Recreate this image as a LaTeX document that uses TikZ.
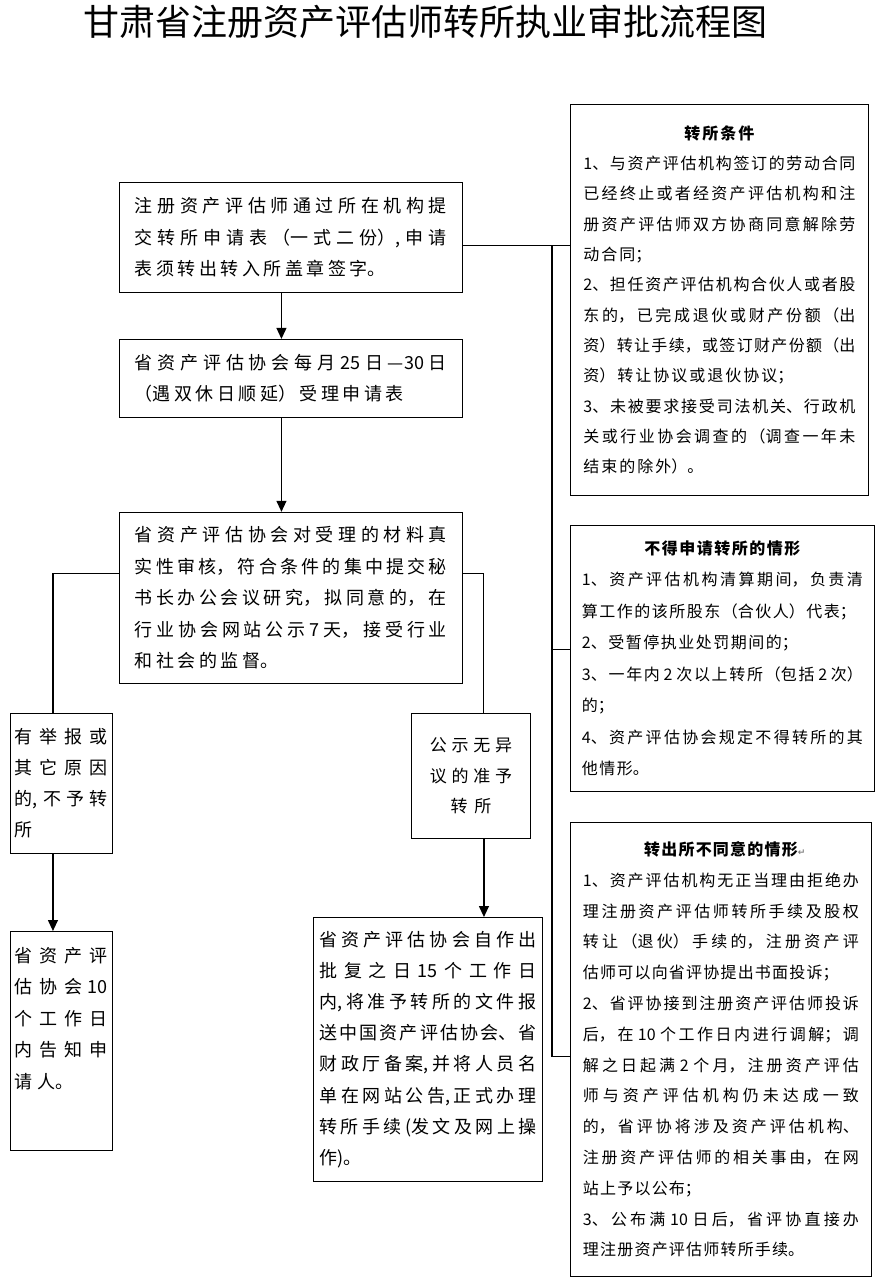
\documentclass[tikz,border=0pt]{standalone}
\usepackage{fontspec}
\setmainfont{Noto Sans CJK SC}
\newfontfamily\markfont{DejaVu Sans}
\usepackage{xcolor}
\usepackage{tikz}
\usetikzlibrary{arrows.meta,positioning}
\XeTeXlinebreaklocale "zh"
\newcommand{\cjkfont}[3]{\fontsize{#1}{#2}\selectfont\XeTeXlinebreakskip=#3 plus 3pt minus 1.5pt\relax}

\begin{document}
\begin{tikzpicture}[
    x=1pt, y=-1pt,
    flowbox/.style={rectangle, draw=black, line width=0.9pt, anchor=north west, inner ysep=0pt, align=justify, font={\cjkfont{18}{31.5}{3.5pt}}},
    notebox/.style={rectangle, draw=black, line width=0.9pt, anchor=north west, inner ysep=0pt, align=justify},
    arrow/.style={-{Triangle[length=11pt,width=10pt]}, line width=1.2pt, draw=black},
    link/.style={line width=1.2pt, draw=black}
]
    \useasboundingbox (0,0) rectangle (877,1279);

    % Title
    \node (title) at (425,22) [font={\cjkfont{36}{40}{0pt}}] {甘肃省注册资产评估师转所执业审批流程图};

    % Nodes (main flow)
    \node (apply) [flowbox, text width=312pt, inner xsep=15.5pt, minimum height=110pt] at (119,182) {注册资产评估师通过所在机构提\linebreak 交转所申请表（一式二份）,申请\linebreak 表须转出转入所盖章签字。};
    \node (accept) [flowbox, text width=312pt, inner xsep=15.5pt, minimum height=78pt, below=46pt of apply] {省资产评估协会每月 25 日—30 日\linebreak （遇双休日顺延）受理申请表};
    \node (review) [flowbox, text width=312pt, inner xsep=15.5pt, minimum height=171pt, below=94pt of accept] {省资产评估协会对受理的材料真\linebreak 实性审核，符合条件的集中提交秘\linebreak 书长办公会议研究，拟同意的，在\linebreak 行业协会网站公示 7 天，接受行业\linebreak 和社会的监督。};

    % Branches
    \node (reject) [flowbox, text width=93pt, inner xsep=4.5pt, minimum height=140pt, font={\cjkfont{18}{31}{5pt}}] at (10,713) {有举报或\linebreak 其它原因\linebreak 的,不予转\linebreak 所};
    \node (approve) [flowbox, text width=100pt, inner xsep=9.5pt, minimum height=125pt, align=center, font={\cjkfont{17}{30.5}{4pt}}] at (411,713) {公示无异\\议的准予\\转所};
    \node (notify) [flowbox, text width=93pt, inner xsep=4.5pt, minimum height=219pt, font={\cjkfont{18}{31.5}{5pt}}] at (10,931) {省资产评\linebreak 估协会 10\linebreak 个工作日\linebreak 内告知申\linebreak 请人。\par\rule{0pt}{44pt}};
    \node (filing) [flowbox, text width=217pt, inner xsep=6pt, minimum height=264pt, font={\cjkfont{18}{31.2}{3pt}}] at (313,917) {省资产评估协会自作出\linebreak 批复之日 15 个工作日\linebreak 内,将准予转所的文件报\linebreak 送中国资产评估协会、省\linebreak 财政厅备案,并将人员名\linebreak 单在网站公告,正式办理\linebreak 转所手续(发文及网上操\linebreak 作)。};

    % Conditions
    \node (cond) [notebox, text width=272pt, inner xsep=13pt, minimum height=391pt, font={\cjkfont{16}{30.3}{2pt}}] at (570,104) {{\centering\bfseries 转所条件\par}
1、与资产评估机构签订的劳动合同\linebreak 已经终止或者经资产评估机构和注\linebreak 册资产评估师双方协商同意解除劳\linebreak 动合同；\par
2、担任资产评估机构合伙人或者股\linebreak 东的，已完成退伙或财产份额（出\linebreak 资）转让手续，或签订财产份额（出\linebreak 资）转让协议或退伙协议；\par
3、未被要求接受司法机关、行政机\linebreak 关或行业协会调查的（调查一年未\linebreak 结束的除外）。};
    \node (deny) [notebox, text width=281pt, inner xsep=11.5pt, minimum height=266pt, font={\cjkfont{16}{31.5}{1.5pt}}] at (570,525) {{\centering\bfseries 不得申请转所的情形\par}
1、资产评估机构清算期间，负责清\linebreak 算工作的该所股东（合伙人）代表；\par
2、受暂停执业处罚期间的；\par
3、一年内 2 次以上转所（包括 2 次）\linebreak 的；\par
4、资产评估协会规定不得转所的其\linebreak 他情形。};
    \node (outdeny) [notebox, text width=276pt, inner xsep=12.5pt, minimum height=454pt, font={\cjkfont{16}{30.8}{1.2pt}}] at (570,822) {{\centering\bfseries 转出所不同意的情形\rlap{\markfont\color{gray}\fontsize{9}{9}\selectfont ↵}\par}
1、资产评估机构无正当理由拒绝办\linebreak 理注册资产评估师转所手续及股权\linebreak 转让（退伙）手续的，注册资产评\linebreak 估师可以向省评协提出书面投诉；\par
2、省评协接到注册资产评估师投诉\linebreak 后，在 10 个工作日内进行调解；调\linebreak 解之日起满 2 个月，注册资产评估\linebreak 师与资产评估机构仍未达成一致\linebreak 的，省评协将涉及资产评估机构、\linebreak 注册资产评估师的相关事由，在网\linebreak 站上予以公布；\par
3、公布满 10 日后，省评协直接办\linebreak 理注册资产评估师转所手续。};

    % Arrows
    \draw [arrow] ([xshift=-9.5pt]apply.south) -- ([xshift=-9.5pt]accept.north);
    \draw [arrow] ([xshift=-9.5pt]accept.south) -- ([xshift=-9.5pt]review.north);
    \draw [link] ([yshift=24.5pt]review.west) -| ([xshift=-8.5pt]reject.north);
    \draw [link] ([yshift=24.5pt]review.east) -| ([xshift=12.5pt]approve.north);
    \draw [arrow] ([xshift=-8.5pt]reject.south) -- ([xshift=-8.5pt]reject.south |- notify.north);
    \draw [arrow] ([xshift=13pt]approve.south) -- ([xshift=13pt]approve.south |- filing.north);

    % Links to conditions
    \draw [link] ([yshift=-8pt]apply.east) -- ([yshift=-8pt]apply.east -| cond.west);
    \coordinate (bus) at (552,245);
    \draw [link] (bus) |- ([yshift=9pt]deny.west);
    \draw [link] (bus) |- ([yshift=-7pt]outdeny.west);
\end{tikzpicture}
\end{document}
